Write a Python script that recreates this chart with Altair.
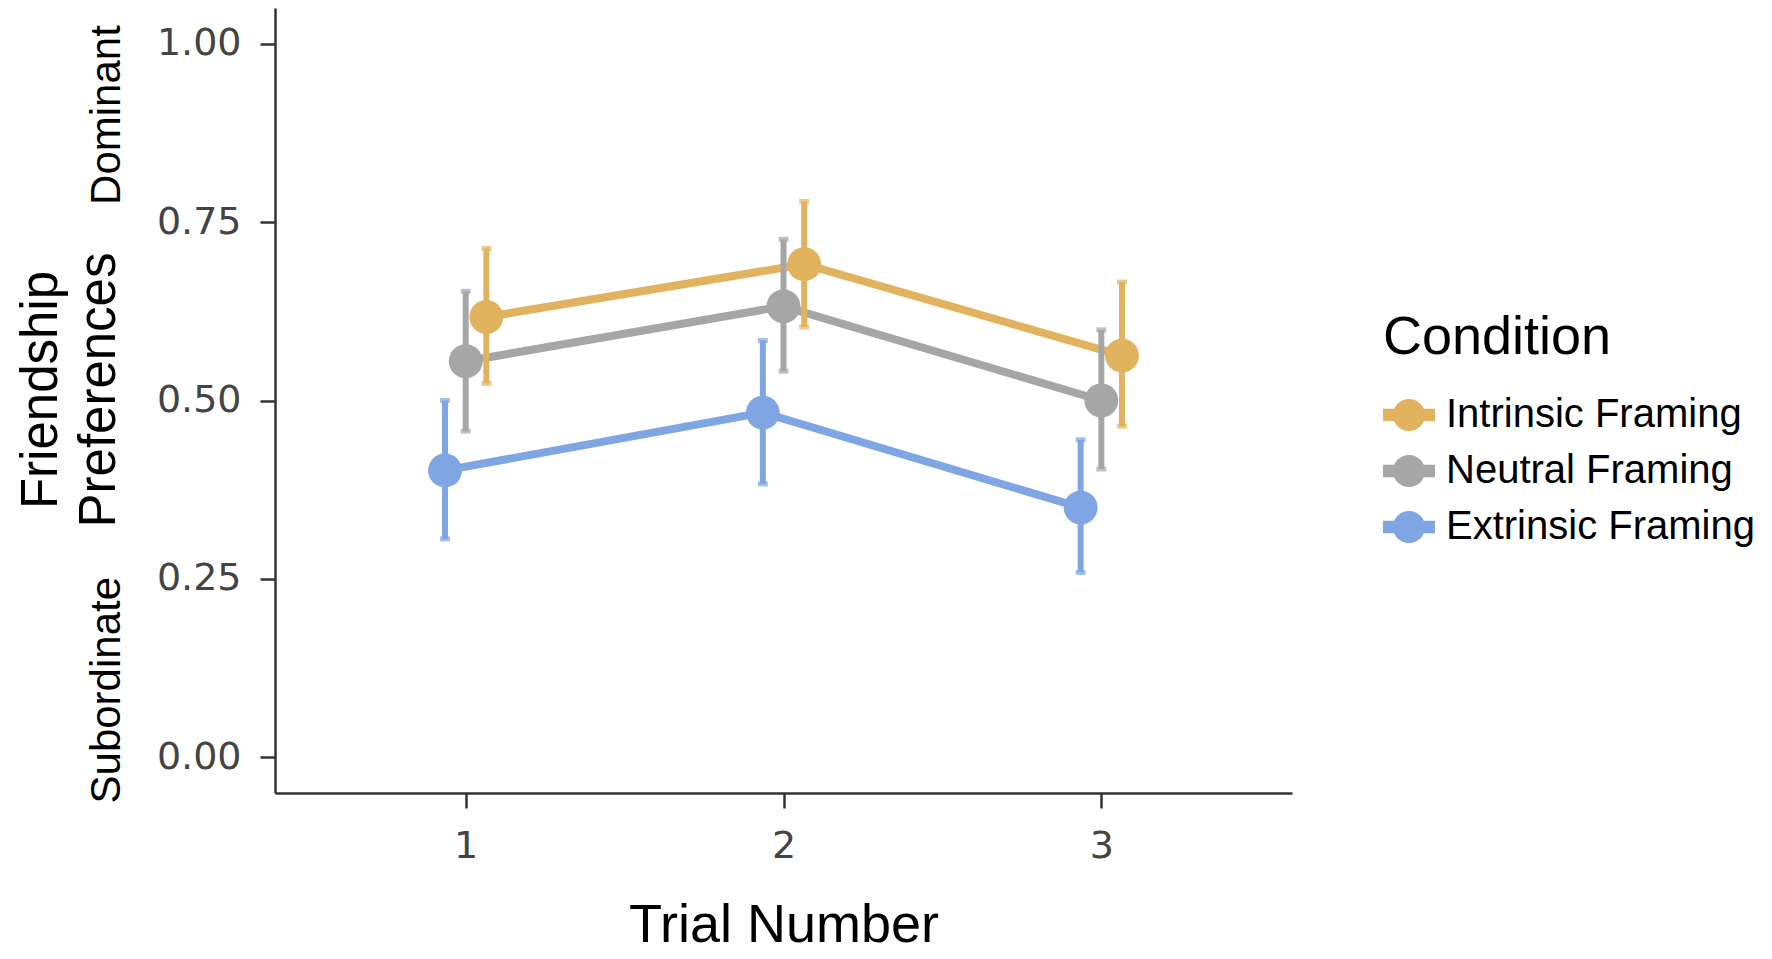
import altair as alt
import pandas as pd

# ---- data ----
trials = [1, 2, 3]
conditions = ["Intrinsic Framing", "Neutral Framing", "Extrinsic Framing"]
intrinsic_mean = [0.617, 0.691, 0.563]
intrinsic_lo = [0.524, 0.603, 0.464]
intrinsic_hi = [0.713, 0.779, 0.666]
neutral_mean = [0.555, 0.632, 0.500]
neutral_lo = [0.457, 0.541, 0.404]
neutral_hi = [0.653, 0.726, 0.599]
extrinsic_mean = [0.402, 0.483, 0.350]
extrinsic_lo = [0.306, 0.383, 0.259]
extrinsic_hi = [0.500, 0.584, 0.445]
y_tick_values = [0.0, 0.25, 0.5, 0.75, 1.0]
x_tick_values = [1, 2, 3]
pole_labels = ["Dominant", "Subordinate"]
pole_values = [0.90, 0.094]
y_title_lines = ["Friendship", "Preferences"]

colors = ["#E2B35E", "#A6A6A6", "#7FA6E2"]
DODGE = 0.065

rows = []
for cond, means, los, his in [
    ("Intrinsic Framing", intrinsic_mean, intrinsic_lo, intrinsic_hi),
    ("Neutral Framing", neutral_mean, neutral_lo, neutral_hi),
    ("Extrinsic Framing", extrinsic_mean, extrinsic_lo, extrinsic_hi),
]:
    for t, m, lo, hi in zip(trials, means, los, his):
        rows.append({"trial": t, "condition": cond, "mean": m, "lo": lo, "hi": hi})
df = pd.DataFrame(rows)

poles = pd.DataFrame({"label": pole_labels, "value": pole_values})

color_scale = alt.Scale(domain=conditions, range=colors)
x_scale = alt.Scale(domain=[0.4, 3.6], nice=False, zero=False)
y_scale = alt.Scale(domain=[-0.05, 1.05], nice=False, zero=False)

legend_symbol = (
    "M-1,-0.24 L1,-0.24 L1,0.24 L-1,0.24 Z "
    "M-0.62,0 A0.62,0.62 0 1,1 0.62,0 A0.62,0.62 0 1,1 -0.62,0 Z"
)

legend = alt.Legend(
    title="Condition",
    titleFontSize=54,
    titleFont="Liberation Sans",
    titleFontWeight="normal",
    titleColor="#000000",
    titlePadding=24,
    titleLimit=0,
    labelFontSize=40,
    labelFont="Liberation Sans",
    labelColor="#000000",
    labelOffset=11,
    labelLimit=0,
    symbolType=legend_symbol,
    symbolSize=2704,
    symbolStrokeWidth=0,
    symbolOpacity=1,
    rowPadding=10,
    orient="none",
    legendX=1108,
    legendY=303,
)

color_enc = alt.Color("condition:N", scale=color_scale, sort=conditions, legend=legend)

base = alt.Chart(df).transform_calculate(
    xd=f"datum.trial + (datum.condition == 'Intrinsic Framing' ? {DODGE} : (datum.condition == 'Extrinsic Framing' ? {-DODGE} : 0))"
)

x_enc = alt.X(
    "xd:Q",
    scale=x_scale,
    axis=alt.Axis(
        values=x_tick_values,
        format="d",
        title="Trial Number",
        titleFontSize=54,
        titleFont="Liberation Sans",
        titleFontWeight="normal",
        titleColor="#000000",
        titleBaseline="alphabetic",
        titleY=148,
        labelFontSize=38,
        labelFont="DejaVu Sans",
        labelColor="#444444",
        labelPadding=19,
        tickSize=15,
        tickWidth=2.5,
        tickColor="#333333",
        domainColor="#333333",
        domainWidth=2.5,
        grid=False,
    ),
)
y_enc = alt.Y(
    "mean:Q",
    scale=y_scale,
    axis=alt.Axis(
        values=y_tick_values,
        format=".2f",
        title=None,
        labelFontSize=38,
        labelFont="DejaVu Sans",
        labelColor="#444444",
        labelPadding=19,
        tickSize=15,
        tickWidth=2.5,
        tickColor="#333333",
        domainColor="#333333",
        domainWidth=2.5,
        grid=False,
    ),
)

lines = base.mark_line(strokeWidth=8).encode(
    x=x_enc,
    y=y_enc,
    color=color_enc,
    detail="condition:N",
)

bars = base.mark_rule(strokeWidth=6).encode(
    x="xd:Q",
    y="lo:Q",
    y2="hi:Q",
    color=color_enc,
)

caps_lo = base.mark_tick(thickness=5, size=10, orient="horizontal").encode(
    x="xd:Q",
    y="lo:Q",
    color=color_enc,
)
caps_hi = base.mark_tick(thickness=5, size=10, orient="horizontal").encode(
    x="xd:Q",
    y="hi:Q",
    color=color_enc,
)

points = base.mark_circle(size=1150, opacity=1).encode(
    x="xd:Q",
    y="mean:Q",
    color=color_enc,
)

pole_text = alt.Chart(poles).mark_text(
    angle=270, fontSize=42, font="Liberation Sans", color="#000000",
    align="center", baseline="middle"
).encode(
    x=alt.value(-168),
    y=alt.Y("value:Q", scale=y_scale),
    text="label:N",
)

title_style = dict(angle=270, fontSize=51, font="Liberation Sans", color="#000000",
                   align="center", baseline="middle")
title_line1 = alt.Chart(pd.DataFrame({"t": [y_title_lines[0]]})).mark_text(**title_style).encode(
    x=alt.value(-233), y=alt.value(382), text="t:N"
)
title_line2 = alt.Chart(pd.DataFrame({"t": [y_title_lines[1]]})).mark_text(**title_style).encode(
    x=alt.value(-175), y=alt.value(382), text="t:N"
)

chart = (
    alt.layer(lines, bars, caps_lo, caps_hi, points, pole_text, title_line1, title_line2)
    .properties(
        width=1017,
        height=785,
        autosize=alt.AutoSizeParams(type="none"),
        padding={"left": 267, "top": 0, "right": 472, "bottom": 158},
        background="#ffffff",
    )
    .configure_view(stroke=None)
)

chart.save("out.html", embed_options={"renderer": "svg", "actions": False})
